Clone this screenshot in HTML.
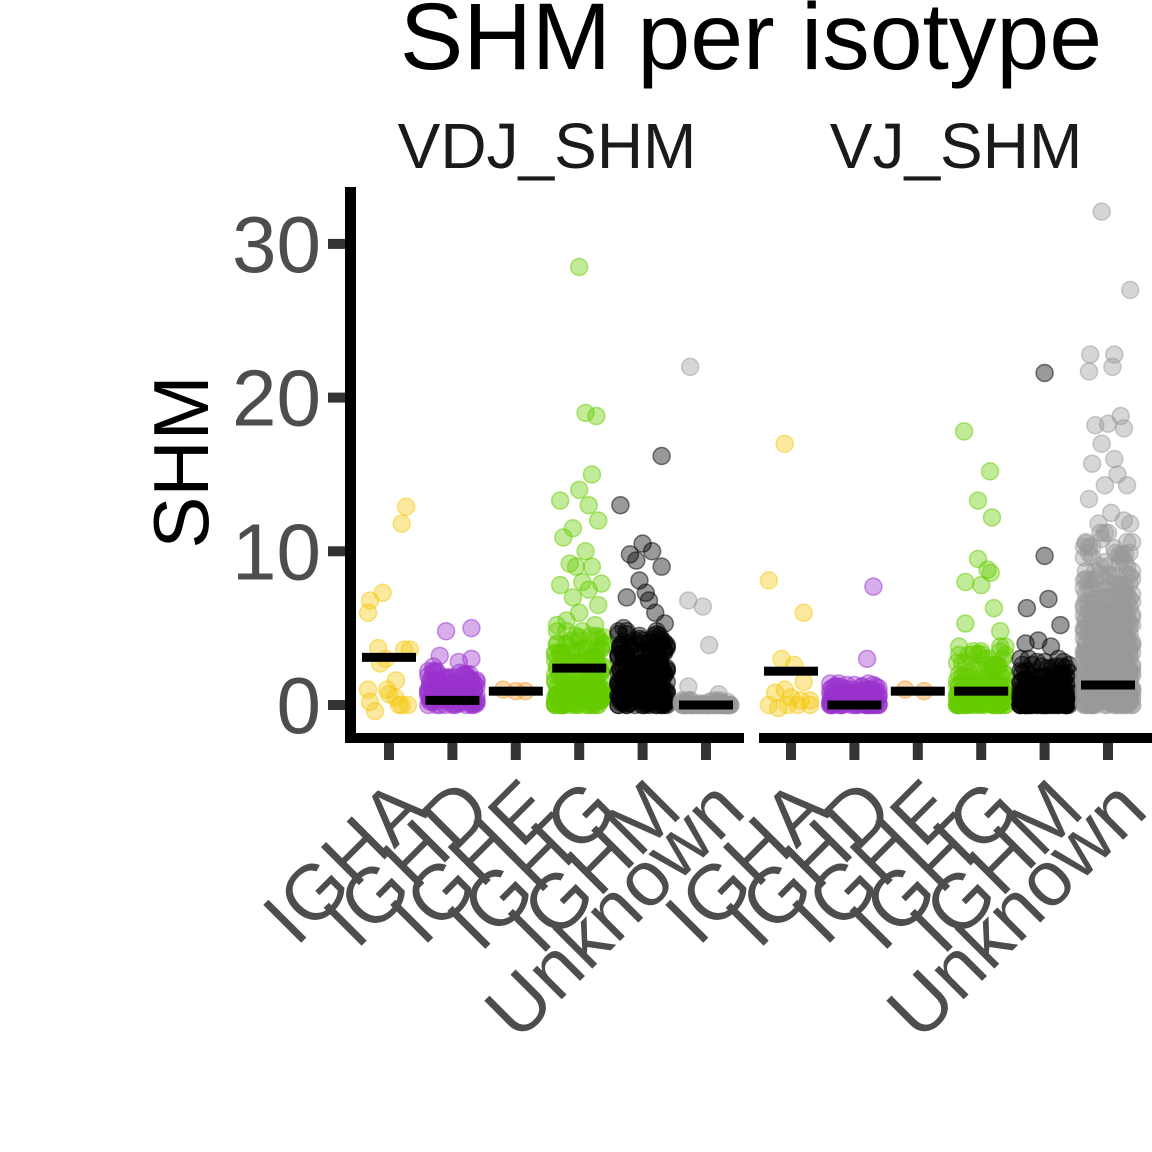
<!DOCTYPE html>
<html><head><meta charset="utf-8"><style>
html,body{margin:0;padding:0;background:#fff;}
svg{display:block;font-family:"Liberation Sans",Arial,sans-serif;}
</style></head><body>
<svg id="chart" width="1152" height="1152" viewBox="0 0 1152 1152" xmlns="http://www.w3.org/2000/svg">
<rect width="1152" height="1152" fill="#fff"/>
<text x="751" y="69" font-size="95" text-anchor="middle" fill="#000">SHM per isotype</text>
<text x="547" y="168" font-size="64" text-anchor="middle" fill="#1a1a1a">VDJ_SHM</text>
<text x="956" y="168" font-size="64" text-anchor="middle" fill="#1a1a1a">VJ_SHM</text>
<text transform="translate(208,462) rotate(-90)" font-size="78" text-anchor="middle" fill="#000">SHM</text>
<g id="marks"></g>
<g id="axes"></g>
</svg>
<script>
const categories = ["IGHA","IGHD","IGHE","IGHG","IGHM","Unknown"];
const facets = ["VDJ_SHM","VJ_SHM"];
const colors = ["#F5C710","#9A32CD","#F39A2A","#66CC00","#000000","#999999"];
const yTicks = [0,10,20,30];
// medians [facet][category]
const medians = [[3.1,0.3,0.9,2.4,1.0,0.0],[2.2,0.0,0.9,0.9,0.5,1.3]];
// outliers as [jitter, value] per facet/category
const vdjIGHA = [[-0.3,6.8],[-0.33,6.0],[-0.1,7.3],[0.27,12.9],[0.2,11.8],[-0.33,1.0],[-0.22,-0.4],[-0.14,2.7],[-0.03,1.0],[0.11,1.6],[0.24,3.6],[0.3,0],[-0.17,3.7],[0.0,0.7],[0.16,0],[-0.3,0.2],[0.33,3.6],[0.2,0],[-0.05,3.0],[0.1,0.5]];
const vdjIGHD = [[-0.1,4.8],[0.3,5.0],[0.3,3.0],[-0.2,3.2],[0.1,2.8],[-0.3,2.5]];
const vdjIGHE = [[-0.2,1.0],[0.15,0.9],[0.0,0.9]];
const vdjIGHG = [[0.0,28.5],[0.1,19.0],[0.27,18.8],[0.2,15.0],[0.0,14.0],[-0.3,13.3],[0.15,13.0],[0.3,12.0],[-0.1,11.5],[-0.25,10.9],[0.1,10.0],[-0.05,9.0],[0.2,9.0],[-0.3,7.8],[0.15,7.5],[-0.1,7.0],[0.3,6.5],[0.0,6.0],[-0.2,5.5],[0.25,5.2],[-0.35,5.2],[0.05,8.0],[-0.15,9.2],[0.35,7.9]];
const vdjIGHM = [[0.3,16.2],[-0.35,13.0],[0.0,10.5],[0.15,10.0],[-0.2,9.8],[0.3,9.0],[-0.05,8.1],[-0.25,7.0],[0.1,6.8],[0.2,6.0],[-0.3,5.0],[0.05,7.3],[-0.1,9.4],[0.35,5.3]];
const vdjUnknown = [[-0.25,22.0],[-0.28,6.8],[-0.05,6.4],[0.05,3.9],[-0.28,1.2],[0.2,0.7]];
const vjIGHA = [[-0.1,17.0],[-0.35,8.1],[0.2,6.0],[-0.15,3.0],[0.05,2.6],[-0.1,1.0],[-0.35,0],[-0.05,0],[0.1,0],[0.3,0],[0.15,0.3],[-0.2,-0.2],[0.2,1.5],[0.3,0.3],[-0.25,0.8],[0.0,0.5]];
const vjIGHD = [[0.3,7.7],[0.2,3.0]];
const vjIGHE = [[-0.2,1.0],[0.1,0.9]];
const vjIGHG = [[-0.27,17.8],[0.14,15.2],[-0.05,13.3],[0.17,12.2],[-0.05,9.5],[0.1,8.8],[-0.25,8.0],[0.0,7.8],[0.2,6.3],[-0.25,5.3],[0.15,8.6],[0.3,4.8]];
const vjIGHM = [[0.0,21.6],[0.0,9.7],[0.06,6.9],[-0.28,6.3],[0.25,5.2],[-0.1,4.2],[-0.3,4.0],[0.1,3.8]];
const vjUnknown = [[-0.1,32.1],[0.35,27.0],[-0.28,22.8],[0.1,22.8],[-0.3,21.7],[0.07,22.0],[0.2,18.8],[0.25,18.0],[-0.1,17.0],[0.1,16.0],[-0.2,18.2],[0.0,18.3],[-0.25,15.7],[0.15,15.0],[-0.05,14.3],[0.3,14.3],[-0.3,13.4],[0.05,12.5],[0.25,12.0],[-0.15,11.8],[0.35,11.8],[-0.35,10.5],[0.1,10.2],[-0.1,10.8]];
const outliers = [[vdjIGHA,vdjIGHD,vdjIGHE,vdjIGHG,vdjIGHM,vdjUnknown],[vjIGHA,vjIGHD,vjIGHE,vjIGHG,vjIGHM,vjUnknown]];
// dense bulk values (jitter taken from a fixed spread pattern)
const denseVdjIGHD = [0,0.2,0.4,0.6,0.8,1,1.2,1.4,1.6,1.8,2,2.2,0.1,0.3,0.5,0.7,0.9,1.1,1.3,1.5,1.7,1.9,2.1,0,0.2,0.4,0.6,0.8,1,1.2,0,0.3,0.6,0.9,1.5,0.1];
const denseVdjIGHG = [0,0.3,0.6,0.9,1.2,1.5,1.8,2.1,2.4,2.7,3,3.3,3.6,3.9,4.2,4.5,0.1,0.4,0.7,1,1.3,1.6,1.9,2.2,2.5,2.8,3.1,3.4,3.7,4,0,0.2,0.5,0.8,1.1,1.4,1.7,2,0,0.3,0.6,0.9,1.2,0.1,0.4,0.7,1,0,0.2,0.5,4.8,4.4,3.5,2.9,0,0.3,0.6,0.1,0.4,0];
const denseVdjIGHM = [0,0.3,0.6,0.9,1.2,1.5,1.8,2.1,2.4,2.7,3,3.3,3.6,3.9,4.2,4.5,4.8,0.1,0.4,0.7,1,1.3,1.6,1.9,2.2,2.5,2.8,3.1,3.4,3.7,4,4.3,0,0.2,0.5,0.8,1.1,1.4,1.7,2,2.3,2.6,2.9,3.2,3.5,3.8,0,0.3,0.6,0.9,1.2,1.5,1.8,2.1,2.4,0.1,0.4,0.7,1,1.3,0,0.2,0.5,0.8,4.6,4.1,3.6,0,0.3,0.6];
const denseVdjUnknown = [0,0,0,0,0.1,0.2,0.3,0,0,0,0,0.1,0.2,0,0,0,0.3,0,0,0,0,0.1,0,0];
const denseVjIGHD = [0,0.2,0.4,0.6,0.8,1,1.2,0,0.1,0.3,0.5,0.7,0.9,1.1,1.3,0,0.2,0.4,0.6,0.8,1,0,0.1,0.3,0.5,0.7,0,0.2,0.4,0,0.1,0.3,1.4,1.2,0,0];
const denseVjIGHG = [0,0.25,0.5,0.75,1,1.25,1.5,1.75,2,2.25,2.5,2.75,3,3.25,3.5,0.1,0.35,0.6,0.85,1.1,1.35,1.6,1.85,2.1,0,0.2,0.45,0.7,0.95,1.2,0,0.3,0.6,0.9,0,0.2,0.4,0,0.1,0.3,3.8,3.3,2.6,0,0.2,0,0.1,0];
const denseVjIGHM = [0,0.2,0.4,0.6,0.8,1,1.2,1.4,1.6,1.8,2,2.2,2.4,2.6,0.1,0.3,0.5,0.7,0.9,1.1,1.3,1.5,1.7,1.9,2.1,0,0.2,0.4,0.6,0.8,1,1.2,1.4,0,0.1,0.3,0.5,0.7,0.9,0,0.2,0.4,0.6,0,0.1,0.3,2.8,2.5,3,0,0.2,0,0.1,0,0.3,0,0.2,0,0.1,0];
const denseVjUnknown = [0,0.3,0.6,0.9,1.2,1.5,1.8,2.1,2.4,2.7,3,3.3,3.6,3.9,4.2,4.5,4.8,5.1,5.4,5.7,6,6.3,6.6,6.9,7.2,7.5,7.8,8.1,8.4,8.7,9,9.3,9.6,9.9,0.1,0.4,0.7,1,1.3,1.6,1.9,2.2,2.5,2.8,3.1,3.4,3.7,4,4.3,4.6,4.9,5.2,5.5,5.8,6.1,6.4,6.7,7,7.3,7.6,7.9,8.2,8.5,0,0.2,0.5,0.8,1.1,1.4,1.7,2,2.3,2.6,2.9,3.2,3.5,3.8,4.1,4.4,4.7,5,5.3,5.6,5.9,6.2,6.5,0,0.3,0.6,0.9,1.2,1.5,1.8,2.1,2.4,2.7,3,3.3,3.6,3.9,4.2,0.1,0.4,0.7,1,1.3,1.6,1.9,2.2,0,0.2,0.5,0.8,1.1,1.4,0,0.3,0.6,0,0.1,10.6,11.2,9.8,10.3];
const dense = [[denseVdjIGHD,denseVdjIGHG,denseVdjIGHM,denseVdjUnknown],[denseVjIGHD,denseVjIGHG,denseVjIGHM,denseVjUnknown]];
const denseCat = [1,3,4,5];
const spread = [-0.38,0.12,-0.2,0.3,-0.05,0.22,-0.3,0.05,0.38,-0.12,0.18,-0.25,0.34,-0.35,0.0,0.27];

const NS="http://www.w3.org/2000/svg";
const panelX0=[357,759], catStep=63.4, firstOff=32;
function xScale(f,c){return panelX0[f]+firstOff+c*catStep;}
function yScale(v){return 705-v*15.37;}
const marks=document.getElementById('marks'), axes=document.getElementById('axes');
function mk(tag,attrs,parent){const e=document.createElementNS(NS,tag);for(const k in attrs)e.setAttribute(k,attrs[k]);parent.appendChild(e);return e;}
function pt(f,c,j,v,op){
  const e=mk('circle',{cx:xScale(f,c)+j*catStep,cy:yScale(v),r:8.5,fill:colors[c],'fill-opacity':op,stroke:colors[c],'stroke-opacity':0.5,'stroke-width':1.5},marks);
  
  
}
for(let f=0;f<2;f++){
  for(let c=0;c<6;c++){
    const di=denseCat.indexOf(c);
    if(di>=0){
      dense[f][di].forEach((v,i)=>{
        pt(f,c,spread[i%spread.length],v,0.4);
        pt(f,c,spread[(i+5)%spread.length],v,0.4);
        pt(f,c,spread[(i+11)%spread.length],v,0.4);
      });
    }
    outliers[f][c].forEach(p=>pt(f,c,p[0],p[1],0.4));
  }
}
for(let f=0;f<2;f++)for(let c=0;c<6;c++){
  const e=mk('rect',{x:xScale(f,c)-27,y:yScale(medians[f][c])-4.5,width:54,height:9,fill:'#000'},marks);
  
  
}
// axes
let e=mk('rect',{x:345,y:187,width:11,height:556,fill:'#000'},axes);


e=mk('rect',{x:345,y:733,width:399,height:10,fill:'#000'},axes);


e=mk('rect',{x:759,y:733,width:393,height:10,fill:'#000'},axes);


yTicks.forEach(t=>{
  let a=mk('rect',{x:328,y:yScale(t)-5,width:17,height:10,fill:'#333'},axes);
  
  
  let l=mk('text',{x:321,y:yScale(t)+28,'font-size':80,'text-anchor':'end',fill:'#4d4d4d'},axes);
  l.textContent=t;
  
  
});
for(let f=0;f<2;f++)for(let c=0;c<6;c++){
  const x=xScale(f,c);
  let a=mk('rect',{x:x-5,y:743,width:10,height:17,fill:'#333'},axes);
  
  
  let l=mk('text',{'font-size':78,'text-anchor':'end',fill:'#4d4d4d',transform:'translate('+(x+42)+',813) rotate(-45)'},axes);
  l.textContent=categories[c];
  
  
}
</script>
</body></html>
